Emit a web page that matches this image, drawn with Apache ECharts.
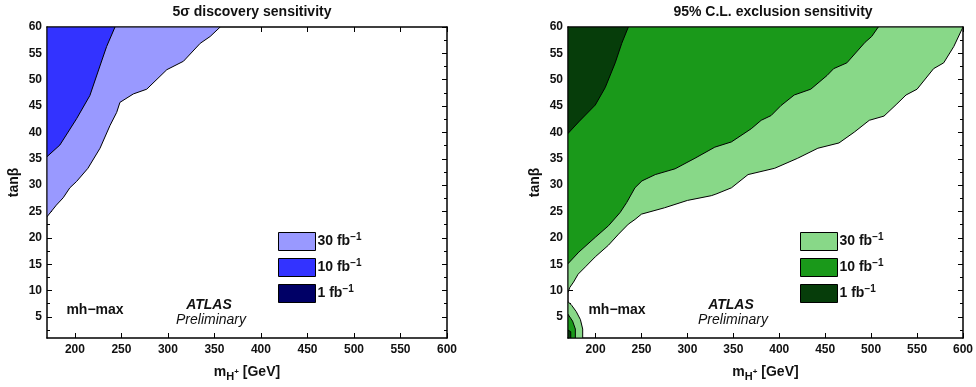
<!DOCTYPE html>
<html>
<head>
<meta charset="utf-8">
<script src="https://cdn.jsdelivr.net/npm/echarts@6/dist/echarts.min.js"></script>
<style>
  html, body { margin: 0; padding: 0; background: #fff; }
  #chart { width: 976px; height: 387px; }
</style>
</head>
<body>
<div id="chart"></div>
<script>
// axis ticks
const xTicks = [200, 250, 300, 350, 400, 450, 500, 550, 600]
const yTicks = [5, 10, 15, 20, 25, 30, 35, 40, 45, 50, 55, 60]
const yMinorTicks = [2.5, 7.5, 12.5, 17.5, 22.5, 27.5, 32.5, 37.5, 42.5, 47.5, 52.5, 57.5]

// contour regions, [mH+ (GeV), tanβ]
const disc30 = [[170, 24.0], [180, 26.2], [187.4, 27.6], [194.6, 29.5], [201.8, 30.7], [214, 33.2], [227, 37],
  [237.7, 41.3], [244.9, 43.8], [248.4, 45.7], [262.8, 47.3], [277.2, 48.2], [298.8, 51.9], [316.7, 53.5],
  [334.7, 56.9], [345.4, 58.2], [356.2, 60], [170, 60]]
const disc10 = [[170, 35.4], [183.8, 37.6], [201.8, 42.6], [216.1, 47.0], [226.9, 52.6], [234.1, 56.3],
  [243.1, 60], [170, 60]]

const excl30 = [[170, 9.7], [172, 10.6], [176, 11.6], [181, 13.1], [189, 14.5], [199.7, 16.4], [214, 18.6],
  [225, 20.7], [235.7, 22.6], [243, 23.5], [250, 24.5], [275, 25.7], [300, 27.1], [326, 28], [331, 28.3],
  [348, 29.5], [366, 32], [395, 33.2], [420, 35.1], [442, 37], [465, 38], [482, 40.1], [498, 42.3],
  [514, 43.1], [528, 45.4], [538, 47.1], [550, 48.2], [568, 52.1], [579, 53.2], [590, 56.3], [600, 60], [170, 60]]
const excl30Lobe = [[170, 1], [186, 1], [186, 2.7], [183.5, 4.5], [179, 6], [174, 7.2], [170, 7.9]]
const excl10 = [[170, 15.1], [181.8, 17.3], [199.7, 20.1], [214.1, 22.3], [226.7, 24.8], [233.9, 26.7],
  [242.9, 29.5], [250.5, 30.8], [265, 32], [286.6, 33.1], [308.2, 35.1], [329.8, 37.2], [347.9, 38.2],
  [369.5, 40.7], [380.3, 42.3], [391.1, 43.2], [401.9, 45.1], [416.3, 47.1], [434.3, 48.2], [452, 50.8],
  [459.2, 52.1], [473.6, 53.2], [493.4, 57.1], [500.6, 58.2], [507.8, 60], [170, 60]]
const excl10Lobe = [[170, 1], [178, 1], [178, 2.7], [175, 4.2], [170, 5.5]]
const excl1 = [[170, 39.8], [181.7, 42], [199.7, 45.2], [210.5, 48.5], [221.4, 53.2], [228.5, 56.9],
  [235.7, 60], [170, 60]]
const excl1Lobe = [[170, 1], [173, 1], [173, 2.2], [170, 2.5]]

const legendLabels = { d30: '30', d10: '10', d1: '1', e30: '30', e10: '10', e1: '1' }

const FONT = '"Liberation Sans", Arial, sans-serif'
const INK = '#111'

const chart = echarts.init(document.getElementById('chart'))

const polySeries = (name, polys, color, g) => ({
  type: 'custom',
  name,
  coordinateSystem: 'cartesian2d',
  xAxisIndex: g * 2,
  yAxisIndex: g * 4,
  clip: true,
  itemStyle: { color },
  data: polys.map((p, i) => i),
  renderItem: (params, api) => {
    const pts = polys[params.dataIndex].map(p => api.coord(p))
    return {
      type: 'polygon',
      shape: { points: pts },
      style: { fill: color, stroke: '#000', lineWidth: 1 }
    }
  }
})

const grids = [
  { left: 47, top: 27, width: 400, height: 315 },
  { left: 568, top: 27, width: 399, height: 315 }
]

const xAxes = []
const yAxes = []
grids.forEach((gr, g) => {
  const line = { show: true, onZero: false, lineStyle: { color: '#000', width: 1.5 } }
  xAxes.push({
    gridIndex: g, type: 'value', position: 'bottom', min: 170, max: 600,
    axisLine: line,
    axisTick: { inside: true, length: 5, customValues: xTicks, lineStyle: { color: '#000' } },
    axisLabel: { customValues: xTicks, color: INK, fontFamily: FONT, fontWeight: 'bold', fontSize: 12, margin: 6 },
    splitLine: { show: false },
    name: 'm{sub|H}{sup|+} [GeV]', nameLocation: 'middle', nameGap: 24,
    nameTextStyle: {
      color: INK, fontFamily: FONT, fontWeight: 'bold', fontSize: 14, lineHeight: 20,
      rich: {
        sub: { fontFamily: FONT, fontWeight: 'bold', fontSize: 11, color: INK, verticalAlign: 'bottom', lineHeight: 12 },
        sup: { fontFamily: FONT, fontWeight: 'bold', fontSize: 8, color: INK, verticalAlign: 'middle' }
      }
    }
  })
  xAxes.push({
    gridIndex: g, type: 'value', position: 'top', min: 170, max: 600,
    axisLine: line,
    axisTick: { inside: true, length: 5, customValues: xTicks, lineStyle: { color: '#000' } },
    axisLabel: { show: false },
    splitLine: { show: false }
  })
  yAxes.push({
    gridIndex: g, type: 'value', position: 'left', min: 1, max: 60,
    axisLine: line,
    axisTick: { inside: true, length: 5, customValues: yTicks, lineStyle: { color: '#000' } },
    axisLabel: { customValues: yTicks, color: INK, fontFamily: FONT, fontWeight: 'bold', fontSize: 12, margin: 5 },
    splitLine: { show: false },
    name: 'tanβ', nameLocation: 'middle', nameGap: 26,
    nameTextStyle: { color: INK, fontFamily: FONT, fontWeight: 'bold', fontSize: 14 }
  })
  yAxes.push({
    gridIndex: g, type: 'value', position: 'left', min: 1, max: 60,
    axisLine: { show: false },
    axisTick: { inside: true, length: 3, customValues: yMinorTicks, lineStyle: { color: '#000' } },
    axisLabel: { show: false },
    splitLine: { show: false }
  })
  yAxes.push({
    gridIndex: g, type: 'value', position: 'right', min: 1, max: 60,
    axisLine: line,
    axisTick: { inside: true, length: 5, customValues: yTicks, lineStyle: { color: '#000' } },
    axisLabel: { show: false },
    splitLine: { show: false }
  })
  yAxes.push({
    gridIndex: g, type: 'value', position: 'right', min: 1, max: 60,
    axisLine: { show: false },
    axisTick: { inside: true, length: 3, customValues: yMinorTicks, lineStyle: { color: '#000' } },
    axisLabel: { show: false },
    splitLine: { show: false }
  })
})

const legendBase = {
  orient: 'vertical', top: 227, itemWidth: 37, itemHeight: 18, itemGap: 7,
  icon: 'rect', selectedMode: false,
  itemStyle: { borderColor: '#000', borderWidth: 1 },
  formatter: n => legendLabels[n] + ' fb{sup|−1}',
  textStyle: {
    color: INK, fontFamily: FONT, fontWeight: 'bold', fontSize: 14, lineHeight: 18, padding: [0, 0, 0, -3],
    rich: { sup: { fontFamily: FONT, fontWeight: 'bold', fontSize: 10, color: INK, verticalAlign: 'top', lineHeight: 10 } }
  }
}

const txt = (x, y, text, style) => ({
  type: 'text', x, y,
  style: Object.assign({ text, fill: INK, font: 'bold 14px ' + FONT, textAlign: 'center', textVerticalAlign: 'middle' }, style)
})

const option = {
  backgroundColor: '#fff',
  animation: false,
  title: [
    { text: '5σ discovery sensitivity', left: 247, top: 0, textAlign: 'center',
      textStyle: { color: INK, fontFamily: FONT, fontWeight: 'bold', fontSize: 14 } },
    { text: '95% C.L. exclusion sensitivity', left: 768, top: 0, textAlign: 'center',
      textStyle: { color: INK, fontFamily: FONT, fontWeight: 'bold', fontSize: 14 } }
  ],
  grid: grids,
  xAxis: xAxes,
  yAxis: yAxes,
  legend: [
    Object.assign({}, legendBase, { left: 273, data: ['d30', 'd10', 'd1'] }),
    Object.assign({}, legendBase, { left: 795, data: ['e30', 'e10', 'e1'] })
  ],
  graphic: [
    txt(95, 310, 'mh−max'),
    txt(209, 305, 'ATLAS', { font: 'italic bold 14px ' + FONT }),
    txt(211, 320, 'Preliminary', { font: 'italic 14px ' + FONT }),
    txt(617, 310, 'mh−max'),
    txt(731, 305, 'ATLAS', { font: 'italic bold 14px ' + FONT }),
    txt(733, 320, 'Preliminary', { font: 'italic 14px ' + FONT })
  ],
  series: [
    polySeries('d30', [disc30], '#9999ff', 0),
    polySeries('d10', [disc10], '#3333ff', 0),
    polySeries('d1', [], '#000066', 0),
    polySeries('e30', [excl30, excl30Lobe], '#88d888', 1),
    polySeries('e10', [excl10, excl10Lobe], '#1a991a', 1),
    polySeries('e1', [excl1, excl1Lobe], '#063d0a', 1)
  ]
}

chart.setOption(option)
window.addEventListener('resize', () => chart.resize())
</script>
</body>
</html>
